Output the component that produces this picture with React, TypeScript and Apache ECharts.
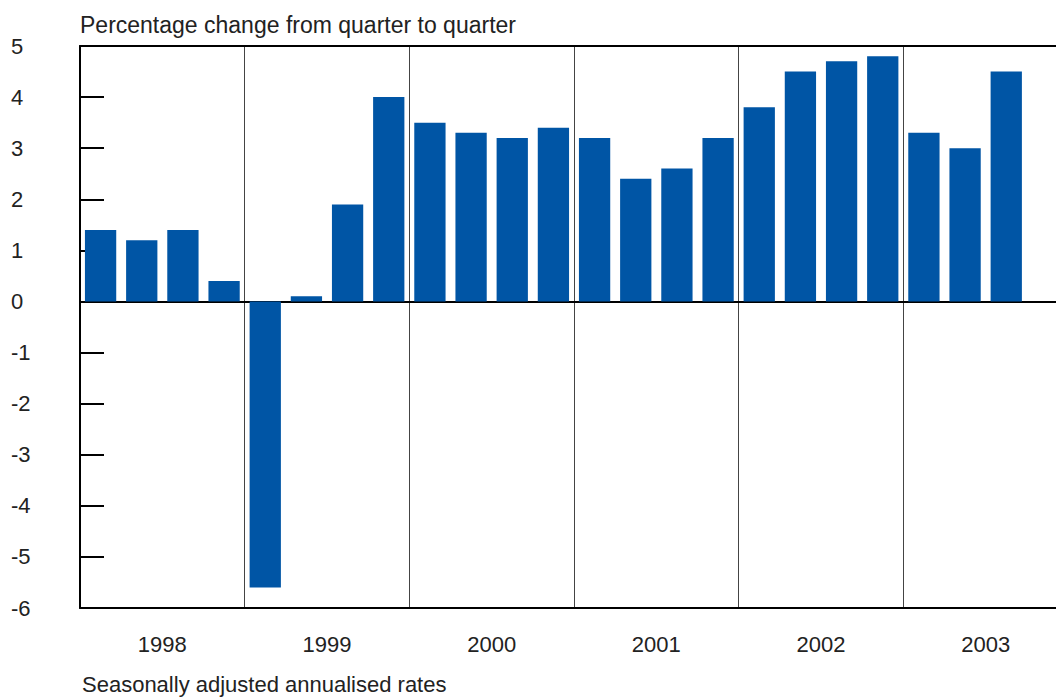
import * as echarts from "echarts";
import { useEffect, useRef } from "react";

const years = ["1998", "1999", "2000", "2001", "2002", "2003"];
const quarters = years.flatMap((y) => ["Q1", "Q2", "Q3", "Q4"].map((q) => `${y} ${q}`));
const values: (number | null)[] = [
  1.4, 1.2, 1.4, 0.4,
  -5.6, 0.1, 1.9, 4.0,
  3.5, 3.3, 3.2, 3.4,
  3.2, 2.4, 2.6, 3.2,
  3.8, 4.5, 4.7, 4.8,
  3.3, 3.0, 4.5, null,
];

const font = "Liberation Sans";

export default function App() {
  const ref = useRef<HTMLDivElement | null>(null);

  useEffect(() => {
    if (!ref.current) return;
    const chart = echarts.init(ref.current, undefined, { renderer: "svg" });
    chart.setOption({
      animation: false,
      textStyle: { fontFamily: font },
      grid: { left: 80, top: 46, height: 562, width: 988 },
      title: [
        { text: "Percentage change from quarter to quarter", left: 75, top: 8,
          textStyle: { fontSize: 23, fontWeight: "normal", color: "#222", fontFamily: font } },
        { text: "Seasonally adjusted annualised rates", left: 77, top: 668,
          textStyle: { fontSize: 22, fontWeight: "normal", color: "#222", fontFamily: font } },
      ],
      xAxis: [
        {
          type: "category", data: quarters,
          axisLine: { onZero: true, lineStyle: { color: "#000", width: 2 } },
          axisTick: { show: false }, axisLabel: { show: false },
        },
        {
          type: "category", data: years, position: "bottom",
          axisLine: { onZero: false, lineStyle: { color: "#000", width: 2 } },
          axisTick: { show: false },
          axisLabel: { color: "#222", fontSize: 22, margin: 25 },
          splitLine: { show: true, lineStyle: { color: "#444", width: 1 } },
        },
        {
          type: "category", data: years, position: "top",
          axisLine: { onZero: false, lineStyle: { color: "#000", width: 2 } },
          axisTick: { show: false }, axisLabel: { show: false },
        },
      ],
      yAxis: {
        type: "value", min: -6, max: 5, interval: 1,
        axisLine: { show: true, lineStyle: { color: "#000", width: 2 } },
        axisTick: { show: true, inside: true, length: 24, lineStyle: { color: "#000", width: 2 } },
        axisLabel: { color: "#222", fontSize: 22, align: "left", margin: 69 },
        splitLine: { show: false },
      },
      series: [
        {
          type: "bar", data: values, xAxisIndex: 0,
          barCategoryGap: "24%",
          itemStyle: { color: "#0055a5" },
        },
      ],
    });
    return () => chart.dispose();
  }, []);

  return (
    <div style={{ position: "absolute", left: 0, top: 0, width: 1056, height: 700, overflow: "hidden", background: "#fff" }}>
      <div ref={ref} style={{ width: 1080, height: 700 }} />
    </div>
  );
}
